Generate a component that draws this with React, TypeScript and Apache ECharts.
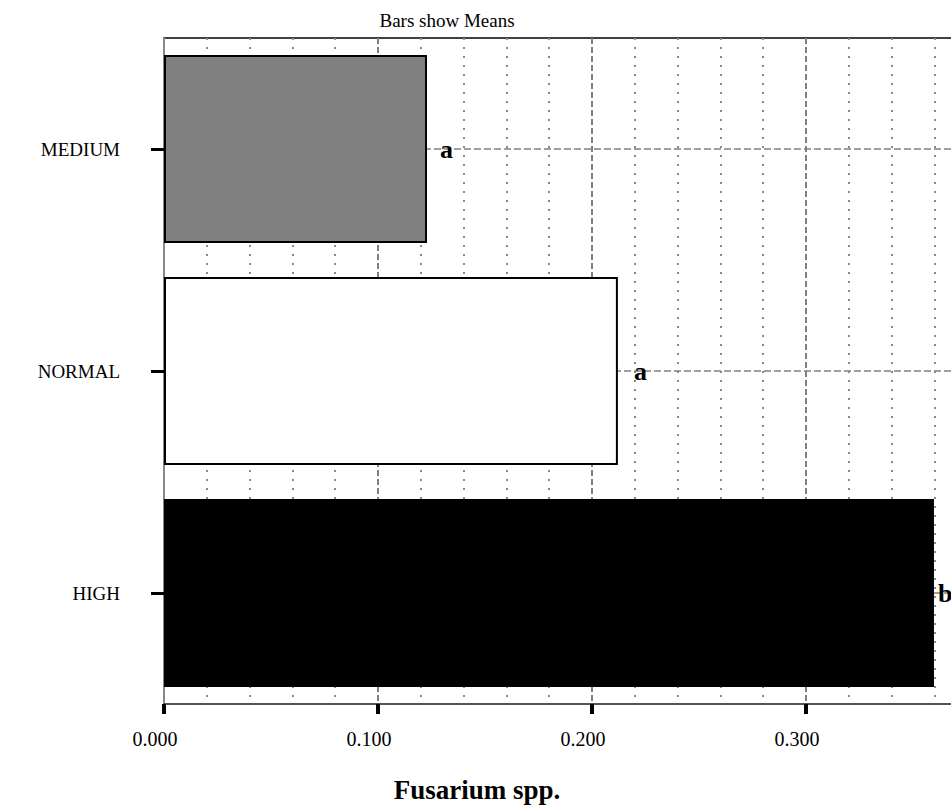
import React, { useEffect, useRef } from "react";
import * as echarts from "echarts";

const categories = ["MEDIUM", "NORMAL", "HIGH"];
const means = [0.1229, 0.2121, 0.3598];
const letters = ["a", "a", "b"];
const barColors = ["#808080", "#ffffff", "#000000"];
const labelGaps = [13, 16, 4];
const xTicks = [0, 0.1, 0.2, 0.3, 0.4];

const SERIF = "'Liberation Serif', 'Times New Roman', serif";

export default function App() {
  const ref = useRef<HTMLDivElement>(null);
  useEffect(() => {
    if (!ref.current) return;
    const chart = echarts.init(ref.current, null, { renderer: "svg" });
    const option = {
      animation: false,
      backgroundColor: "#ffffff",
      textStyle: { fontFamily: SERIF },
      grid: {
        left: 164,
        top: 38,
        bottom: 105,
        right: 20,
        show: true,
        borderColor: "#404040",
        borderWidth: 2,
        backgroundColor: "transparent",
      },
      graphic: [
        {
          type: "text",
          x: 447,
          y: 20,
          style: {
            text: "Bars show Means",
            fontFamily: SERIF,
            fontSize: 19,
            fill: "#000",
            textAlign: "center",
            textVerticalAlign: "middle",
          },
        },
        {
          type: "text",
          x: 477,
          y: 790,
          style: {
            text: "Fusarium spp.",
            fontFamily: SERIF,
            fontSize: 27,
            fontWeight: "bold",
            fill: "#000",
            textAlign: "center",
            textVerticalAlign: "middle",
          },
        },
      ],
      xAxis: {
        type: "value",
        min: xTicks[0],
        max: xTicks[xTicks.length - 1],
        interval: 0.1,
        axisLine: { show: true, lineStyle: { color: "#555", width: 2 } },
        axisTick: { show: true, length: 10, lineStyle: { color: "#000", width: 4 } },
        axisLabel: {
          formatter: (v: number) => v.toFixed(3),
          fontFamily: SERIF,
          fontSize: 20,
          color: "#000",
          margin: 25,
          padding: [0, 18, 0, 0],
          showMaxLabel: false,
        },
        splitLine: {
          show: true,
          lineStyle: { color: "#808080", width: 2, type: [6, 3] },
        },
        minorTick: { show: false, splitNumber: 5 },
        minorSplitLine: {
          show: true,
          lineStyle: { color: "#8a8a8a", width: 2, type: [2, 7] },
        },
      },
      yAxis: {
        type: "category",
        data: categories,
        inverse: true,
        axisLine: { show: true, lineStyle: { color: "#888", width: 2 } },
        axisTick: {
          show: true,
          alignWithLabel: true,
          length: 13,
          lineStyle: { color: "#000", width: 3 },
        },
        axisLabel: {
          fontFamily: SERIF,
          fontSize: 19,
          color: "#000",
          margin: 44,
        },
        splitLine: { show: false },
      },
      series: [
        {
          type: "line",
          data: [],
          z: 1,
          silent: true,
          markLine: {
            z: 1,
            silent: true,
            symbol: "none",
            label: { show: false },
            lineStyle: { color: "#808080", width: 1.5, type: [7, 3] },
            data: categories.map((c) => ({ yAxis: c })),
          },
        },
        {
          type: "bar",
          z: 3,
          barWidth: 188,
          data: means.map((v, i) => ({
            value: v,
            itemStyle: {
              color: barColors[i],
              borderColor: "#000",
              borderWidth: 2,
            },
            label: { distance: labelGaps[i] },
          })),
          label: {
            show: true,
            position: "right",
            formatter: (p: any) => letters[p.dataIndex],
            fontFamily: SERIF,
            fontSize: 26,
            fontWeight: "bold",
            color: "#000",
          },
        },
      ],
    };
    chart.setOption(option as any);
    return () => chart.dispose();
  }, []);
  return (
    <div
      style={{
        position: "fixed",
        left: 0,
        top: 0,
        width: 951,
        height: 809,
        overflow: "hidden",
        background: "#fff",
      }}
    >
      <div ref={ref} style={{ width: 1040, height: 809 }} />
    </div>
  );
}
